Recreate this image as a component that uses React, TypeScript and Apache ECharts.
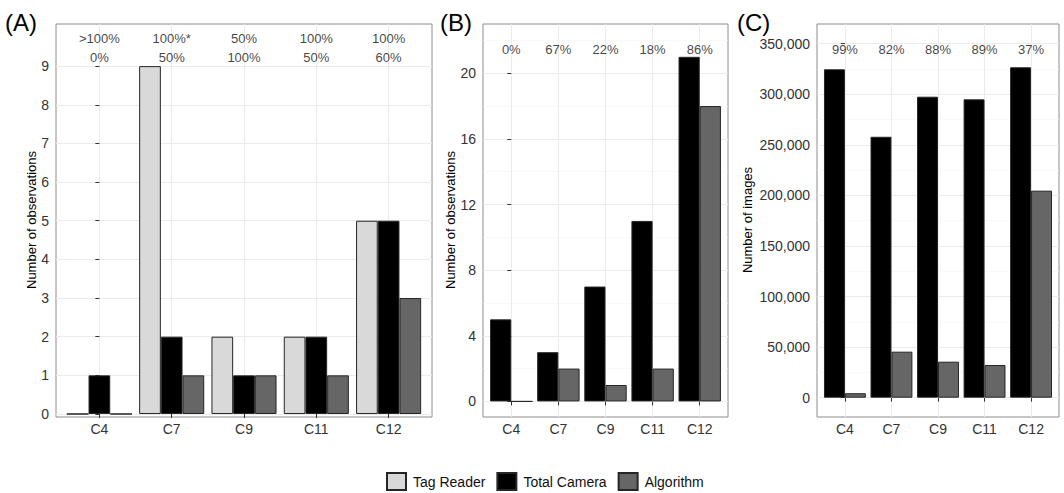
import React, { useEffect, useRef } from 'react';
import * as echarts from 'echarts';

const categories = ['C4', 'C7', 'C9', 'C11', 'C12'];

// Panel A
const tagReaderA = [0, 9, 2, 2, 5];
const totalCameraA = [1, 2, 1, 2, 5];
const algorithmA = [0, 1, 1, 1, 3];
const annotTopA = ['>100%', '100%*', '50%', '100%', '100%'];
const annotBottomA = ['0%', '50%', '100%', '50%', '60%'];
const ticksA = [0, 1, 2, 3, 4, 5, 6, 7, 8, 9];

// Panel B
const totalCameraB = [5, 3, 7, 11, 21];
const algorithmB = [0, 2, 1, 2, 18];
const annotB = ['0%', '67%', '22%', '18%', '86%'];
const ticksB = [0, 4, 8, 12, 16, 20];
const minorB = [2, 6, 10, 14, 18, 22];

// Panel C
const totalCameraC = [324700, 258000, 297600, 295000, 326700];
const algorithmC = [4400, 45500, 35600, 32300, 204700];
const annotC = ['99%', '82%', '88%', '89%', '37%'];
const ticksC = [0, 50000, 100000, 150000, 200000, 250000, 300000, 350000];
const minorC = [25000, 75000, 125000, 175000, 225000, 275000, 325000];

const seriesNames = ['Tag Reader', 'Total Camera', 'Algorithm'];
const FONT = '"Liberation Sans", Arial, Helvetica, sans-serif';
const COL_TAG = '#d9d9d9';
const COL_TOTAL = '#000000';
const COL_ALGO = '#666666';
const BORDER = '#262626';
const GRID_MAJOR = '#ebebeb';
const GRID_MINOR = '#f5f5f5';
const TICK_COLOR = '#333333';

export default function App() {
  const ref = useRef<HTMLDivElement>(null);

  useEffect(() => {
    if (!ref.current) return;
    const chart = echarts.init(ref.current, undefined, { renderer: 'svg' });
    const catIdx = categories.map((_, i) => i);

    const xAxisFor = (gridIndex: number) => ({
      type: 'value',
      gridIndex,
      min: -0.6,
      max: 4.6,
      axisLine: { show: false },
      axisTick: { show: true, length: 4, customValues: catIdx, lineStyle: { color: '#333333', width: 1 } },
      axisLabel: {
        customValues: catIdx,
        formatter: (v: number) => categories[Math.round(v)] ?? '',
        fontSize: 14,
        color: TICK_COLOR,
        margin: 5,
        fontFamily: FONT,
      },
      splitLine: { show: true, lineStyle: { color: GRID_MAJOR, width: 1 } },
    });

    const yMain = (gridIndex: number, min: number, max: number, ticks: number[], fmt?: (v: number) => string) => ({
      type: 'value',
      gridIndex,
      min,
      max,
      axisLine: { show: false },
      axisTick: { show: true, length: 4, customValues: ticks, lineStyle: { color: '#333333', width: 1 } },
      axisLabel: {
        customValues: ticks,
        fontSize: 14,
        color: TICK_COLOR,
        margin: 7,
        fontFamily: FONT,
        formatter: fmt ?? ((v: number) => String(v)),
      },
      splitLine: { show: true, lineStyle: { color: GRID_MAJOR, width: 1 } },
    });

    const yMinor = (gridIndex: number, min: number, max: number, ticks: number[]) => ({
      type: 'value',
      gridIndex,
      min,
      max,
      position: 'left',
      axisLine: { show: false },
      axisTick: { show: false, customValues: ticks },
      axisLabel: { show: false, customValues: ticks },
      splitLine: { show: true, lineStyle: { color: GRID_MINOR, width: 0.6 } },
    });

    const bar = (name: string, color: string, values: number[], xi: number, yi: number) => ({
      type: 'bar',
      name,
      xAxisIndex: xi,
      yAxisIndex: yi,
      data: values.map((v, i) => [i, v]),
      barGap: '0%',
      barCategoryGap: '10%',
      itemStyle: { color, borderColor: BORDER, borderWidth: 1 },
      emphasis: { disabled: true },
      z: 3,
    });

    const annot = (name: string, labels: string[], yPos: number, xi: number, yi: number) => ({
      type: 'scatter',
      name,
      xAxisIndex: xi,
      yAxisIndex: yi,
      symbolSize: 1,
      silent: true,
      itemStyle: { color: 'rgba(0,0,0,0)' },
      data: labels.map((t, i) => ({ value: [i, yPos], label: { formatter: t } })),
      label: {
        show: true,
        position: 'inside',
        fontSize: 13,
        color: '#111111',
        fontFamily: FONT,
      },
      z: 5,
    });

    const titleText = (x: number, y: number, text: string) => ({
      type: 'text',
      x,
      y,
      rotation: Math.PI / 2,
      style: {
        text,
        fontSize: 13,
        fontFamily: FONT,
        fill: '#000000',
        textAlign: 'center',
        textVerticalAlign: 'middle',
      },
    });

    const tagText = (x: number, y: number, text: string) => ({
      type: 'text',
      x,
      y,
      style: {
        text,
        fontSize: 24,
        fontFamily: FONT,
        fill: '#000000',
        textAlign: 'left',
        textVerticalAlign: 'middle',
      },
    });

    const gridStyle = { show: true, borderColor: '#8c8c8c', borderWidth: 1, backgroundColor: 'rgba(0,0,0,0)' };

    chart.setOption({
      animation: false,
      textStyle: { fontFamily: FONT },
      grid: [
        { left: 56, top: 24, width: 376, height: 393, ...gridStyle },
        { left: 483, top: 24, width: 245, height: 393, ...gridStyle },
        { left: 817, top: 24, width: 242, height: 393, ...gridStyle },
      ],
      xAxis: [xAxisFor(0), xAxisFor(1), xAxisFor(2)],
      yAxis: [
        yMain(0, -0.078, 10.09, ticksA),
        yMain(1, -0.95, 23.0, ticksB),
        yMinor(1, -0.95, 23.0, minorB),
        yMain(2, -19080, 369500, ticksC, (v: number) => v.toLocaleString('en-US')),
        yMinor(2, -19080, 369500, minorC),
      ],
      legend: {
        data: seriesNames,
        left: 386,
        top: 472,
        padding: 0,
        itemWidth: 19,
        itemHeight: 17,
        itemGap: 11,
        icon: 'rect',
        selectedMode: false,
        textStyle: { fontSize: 14, color: '#111111', fontFamily: FONT, padding: [0, 0, 0, 2] },
      },
      graphic: [
        tagText(5, 22, '(A)'),
        tagText(440, 22, '(B)'),
        tagText(737, 22, '(C)'),
        titleText(31, 220, 'Number of observations'),
        titleText(450, 220, 'Number of observations'),
        titleText(747, 220, 'Number of images'),
      ],
      series: [
        bar(seriesNames[0], COL_TAG, tagReaderA, 0, 0),
        bar(seriesNames[1], COL_TOTAL, totalCameraA, 0, 0),
        bar(seriesNames[2], COL_ALGO, algorithmA, 0, 0),
        bar(seriesNames[1], COL_TOTAL, totalCameraB, 1, 1),
        bar(seriesNames[2], COL_ALGO, algorithmB, 1, 1),
        bar(seriesNames[1], COL_TOTAL, totalCameraC, 2, 3),
        bar(seriesNames[2], COL_ALGO, algorithmC, 2, 3),
        annot('annotA1', annotTopA, 9.72, 0, 0),
        annot('annotA2', annotBottomA, 9.23, 0, 0),
        annot('annotB', annotB, 21.46, 1, 1),
        annot('annotC', annotC, 343800, 2, 3),
      ],
    });

    return () => chart.dispose();
  }, []);

  return (
    <div
      ref={ref}
      style={{ position: 'fixed', left: 0, top: 0, width: 1064, height: 493, background: '#ffffff' }}
    />
  );
}
